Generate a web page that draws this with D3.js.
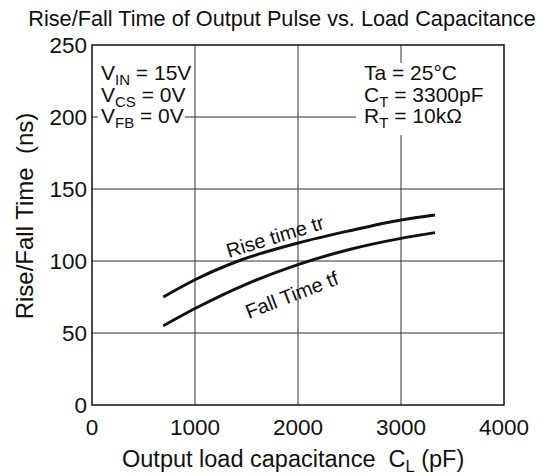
<!DOCTYPE html>
<html>
<head>
<meta charset="utf-8">
<script src="https://cdn.jsdelivr.net/npm/d3@7"></script>
<style>
  body { margin: 0; background: #fff; }
  svg { font-family: "Liberation Sans", Arial, sans-serif; }
  text { white-space: pre; }
</style>
</head>
<body>
<div class="chartWrap"></div>
<script>
// data
var xTicks = [0, 1000, 2000, 3000, 4000];
var yTicks = [0, 50, 100, 150, 200, 250];
var riseX = [692, 1000, 1420, 2000, 2500, 3000, 3330];
var riseY = [75, 87, 100, 112.5, 121, 128.5, 132];
var fallX = [692, 1000, 1500, 2000, 2500, 3000, 3330];
var fallY = [55, 67, 84, 97.5, 108, 115.7, 119.7];
var leftNotes = [['V', 'IN', ' = 15V'], ['V', 'CS', ' = 0V'], ['V', 'FB', ' = 0V']];
var rightNotes = [['Ta = 25°C', '', ''], ['C', 'T', ' = 3300pF'], ['R', 'T', ' = 10kΩ']];

var width = 539, height = 476;
var m = {left: 92, right: 35, top: 45, bottom: 71};

var svg = d3.select('.chartWrap').append('svg')
  .attr('width', width).attr('height', height);

var x = d3.scaleLinear().domain([0, 4000]).range([m.left, width - m.right]);
var y = d3.scaleLinear().domain([0, 250]).range([height - m.bottom, m.top]);

// grid
svg.append('g').selectAll('line')
  .data(xTicks.slice(1, -1)).enter().append('line')
  .attr('x1', function(d){ return x(d); }).attr('x2', function(d){ return x(d); })
  .attr('y1', y(250)).attr('y2', y(0))
  .style('stroke', '#333').style('stroke-width', 1);
svg.append('g').selectAll('line')
  .data(yTicks.slice(1, -1)).enter().append('line')
  .attr('x1', x(0)).attr('x2', x(4000))
  .attr('y1', function(d){ return y(d); }).attr('y2', function(d){ return y(d); })
  .style('stroke', '#333').style('stroke-width', 1);

// notes
function notes(rows, xPos) {
  var g = svg.append('g');
  rows.forEach(function(r, i){
    var t = g.append('text')
      .attr('x', xPos).attr('y', 80 + i * 21.5)
      .style('font-size', '21px').style('fill', '#111');
    t.append('tspan').text(r[0]);
    if (r[1]) {
      t.append('tspan').attr('dy', 5).style('font-size', '15px').text(r[1]);
      t.append('tspan').attr('dy', -5).text(r[2]);
    }
  });
  return g;
}
// left block: tight white behind each line
var lg = notes(leftNotes, 101);
lg.selectAll('text').each(function(){
  var bb = this.getBBox();
  lg.insert('rect', 'text')
    .attr('x', bb.x - 3).attr('y', bb.y + 3)
    .attr('width', bb.width + 4).attr('height', bb.height - 3)
    .style('fill', '#fff');
});
// right block: one white box
var rg = notes(rightNotes, 364);
var rb = rg.node().getBBox();
rg.insert('rect', 'text')
  .attr('x', rb.x - 8).attr('y', rb.y + 2)
  .attr('width', rb.width + 34).attr('height', rb.height + 2)
  .style('fill', '#fff');

// frame
svg.append('rect')
  .attr('x', x(0)).attr('y', y(250))
  .attr('width', x(4000) - x(0)).attr('height', y(0) - y(250))
  .style('fill', 'none').style('stroke', '#111').style('stroke-width', 1.5);

// tick labels
svg.append('g').selectAll('text')
  .data(xTicks).enter().append('text')
  .attr('x', function(d){ return x(d); }).attr('y', y(0) + 30)
  .attr('text-anchor', 'middle')
  .style('font-size', '22.5px').style('fill', '#111')
  .text(function(d){ return d; });
svg.append('g').selectAll('text')
  .data(yTicks).enter().append('text')
  .attr('x', x(0) - 5).attr('y', function(d){ return y(d) + 8; })
  .attr('text-anchor', 'end')
  .style('font-size', '22.5px').style('fill', '#111')
  .text(function(d){ return d; });

// curves
var line = d3.line().curve(d3.curveMonotoneX)
  .x(function(d){ return x(d[0]); }).y(function(d){ return y(d[1]); });
[[riseX, riseY], [fallX, fallY]].forEach(function(s){
  svg.append('path')
    .datum(d3.zip(s[0], s[1]))
    .attr('d', line)
    .style('fill', 'none').style('stroke', '#111').style('stroke-width', 3);
});

svg.append('text')
  .attr('transform', 'translate(' + x(1777) + ',' + y(117) + ') rotate(-17)')
  .attr('text-anchor', 'middle').attr('dy', '0.35em')
  .style('font-size', '20px').style('fill', '#111')
  .text('Rise time tr');
svg.append('text')
  .attr('transform', 'translate(' + x(1940) + ',' + y(76.5) + ') rotate(-21)')
  .attr('text-anchor', 'middle').attr('dy', '0.35em')
  .style('font-size', '20px').style('fill', '#111')
  .text('Fall Time tf');

// titles
svg.append('text')
  .attr('x', 282).attr('y', 26)
  .attr('text-anchor', 'middle')
  .style('font-size', '21.7px').style('fill', '#111')
  .text('Rise/Fall Time of Output Pulse vs. Load Capacitance');

var xt = svg.append('text')
  .attr('x', 122).attr('y', 467)
  .style('font-size', '23.5px').style('fill', '#111');
xt.append('tspan').text('Output load capacitance  C');
xt.append('tspan').attr('dy', 5).style('font-size', '16.5px').text('L');
xt.append('tspan').attr('dy', -5).text(' (pF)');

svg.append('text')
  .attr('transform', 'translate(33,216) rotate(-90)')
  .attr('text-anchor', 'middle')
  .style('font-size', '24px').style('fill', '#111')
  .text('Rise/Fall Time  (ns)');
</script>
</body>
</html>
